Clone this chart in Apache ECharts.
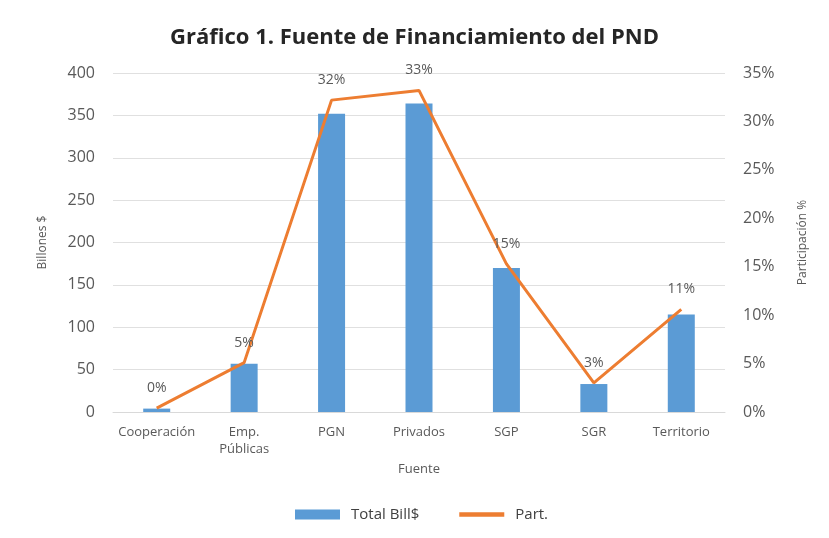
<!DOCTYPE html>
<html>
<head>
<meta charset="utf-8">
<script src="https://cdn.jsdelivr.net/npm/echarts@6/dist/echarts.min.js"></script>
<style>
  html, body { margin: 0; padding: 0; background: #fff; }
  #chart { width: 829px; height: 538px; }
</style>
</head>
<body>
<div id="chart"></div>
<script>
// datos del gráfico
const categories = ['Cooperación', 'Emp.\nPúblicas', 'PGN', 'Privados', 'SGP', 'SGR', 'Territorio'];
const totalBill = [4, 57, 352, 364, 170, 33, 115];
const partPct = [0.4, 5.1, 32.2, 33.2, 15.3, 3.0, 10.6];

const chart = echarts.init(document.getElementById('chart'));
const gray = '#595959';
const font = 'Open Sans';

const option = {
  title: {
    text: 'Gráfico 1. Fuente de Financiamiento del PND',
    left: 'center',
    top: 22,
    textStyle: { fontFamily: font, fontSize: 22, fontWeight: 'bold', color: '#262626' }
  },
  legend: {
    bottom: 11,
    left: 290,
    itemGap: 40,
    itemWidth: 45,
    itemHeight: 10,
    textStyle: { fontFamily: font, fontSize: 15, color: '#404040', padding: [0, 0, 0, 6] },
    data: [
      { name: 'Total Bill$', icon: 'rect' },
      { name: 'Part.', icon: 'path://M0,0 L10,0 L10,1 L0,1 Z' }
    ]
  },
  grid: { left: 113, right: 104, top: 73, bottom: 126 },
  xAxis: {
    type: 'category',
    data: categories,
    name: 'Fuente',
    nameLocation: 'middle',
    nameGap: 50,
    nameTextStyle: { fontFamily: font, fontSize: 13, color: gray },
    axisTick: { show: false },
    axisLine: { lineStyle: { color: '#d9d9d9' } },
    axisLabel: { interval: 0, fontFamily: font, fontSize: 13, color: gray, margin: 12, lineHeight: 17 }
  },
  yAxis: [
    {
      type: 'value',
      min: 0, max: 400, interval: 50,
      name: 'Billones $',
      nameLocation: 'middle',
      nameGap: 64,
      nameTextStyle: { fontFamily: font, fontSize: 12, color: gray },
      axisLabel: { fontFamily: font, fontSize: 16, color: gray, margin: 18 },
      splitLine: { lineStyle: { color: '#e0e0e0' } }
    },
    {
      type: 'value',
      min: 0, max: 35, interval: 5,
      name: 'Participación %',
      nameLocation: 'middle',
      nameGap: 72,
      nameRotate: 90,
      nameTextStyle: { fontFamily: font, fontSize: 12, color: gray },
      axisLabel: { fontFamily: font, fontSize: 16, color: gray, margin: 18, formatter: '{value}%' },
      splitLine: { show: false }
    }
  ],
  series: [
    {
      name: 'Total Bill$',
      type: 'bar',
      data: totalBill,
      barWidth: 27,
      itemStyle: { color: '#5B9BD5' }
    },
    {
      name: 'Part.',
      type: 'line',
      yAxisIndex: 1,
      data: partPct,
      symbol: 'circle',
      symbolSize: 0,
      lineStyle: { color: '#ED7D31', width: 3 },
      itemStyle: { color: '#ED7D31' },
      label: {
        show: true,
        position: 'top',
        distance: 13,
        fontFamily: font,
        fontSize: 14,
        color: gray,
        formatter: p => Math.round(p.value) + '%'
      }
    }
  ]
};

chart.setOption(option);
</script>
</body>
</html>
